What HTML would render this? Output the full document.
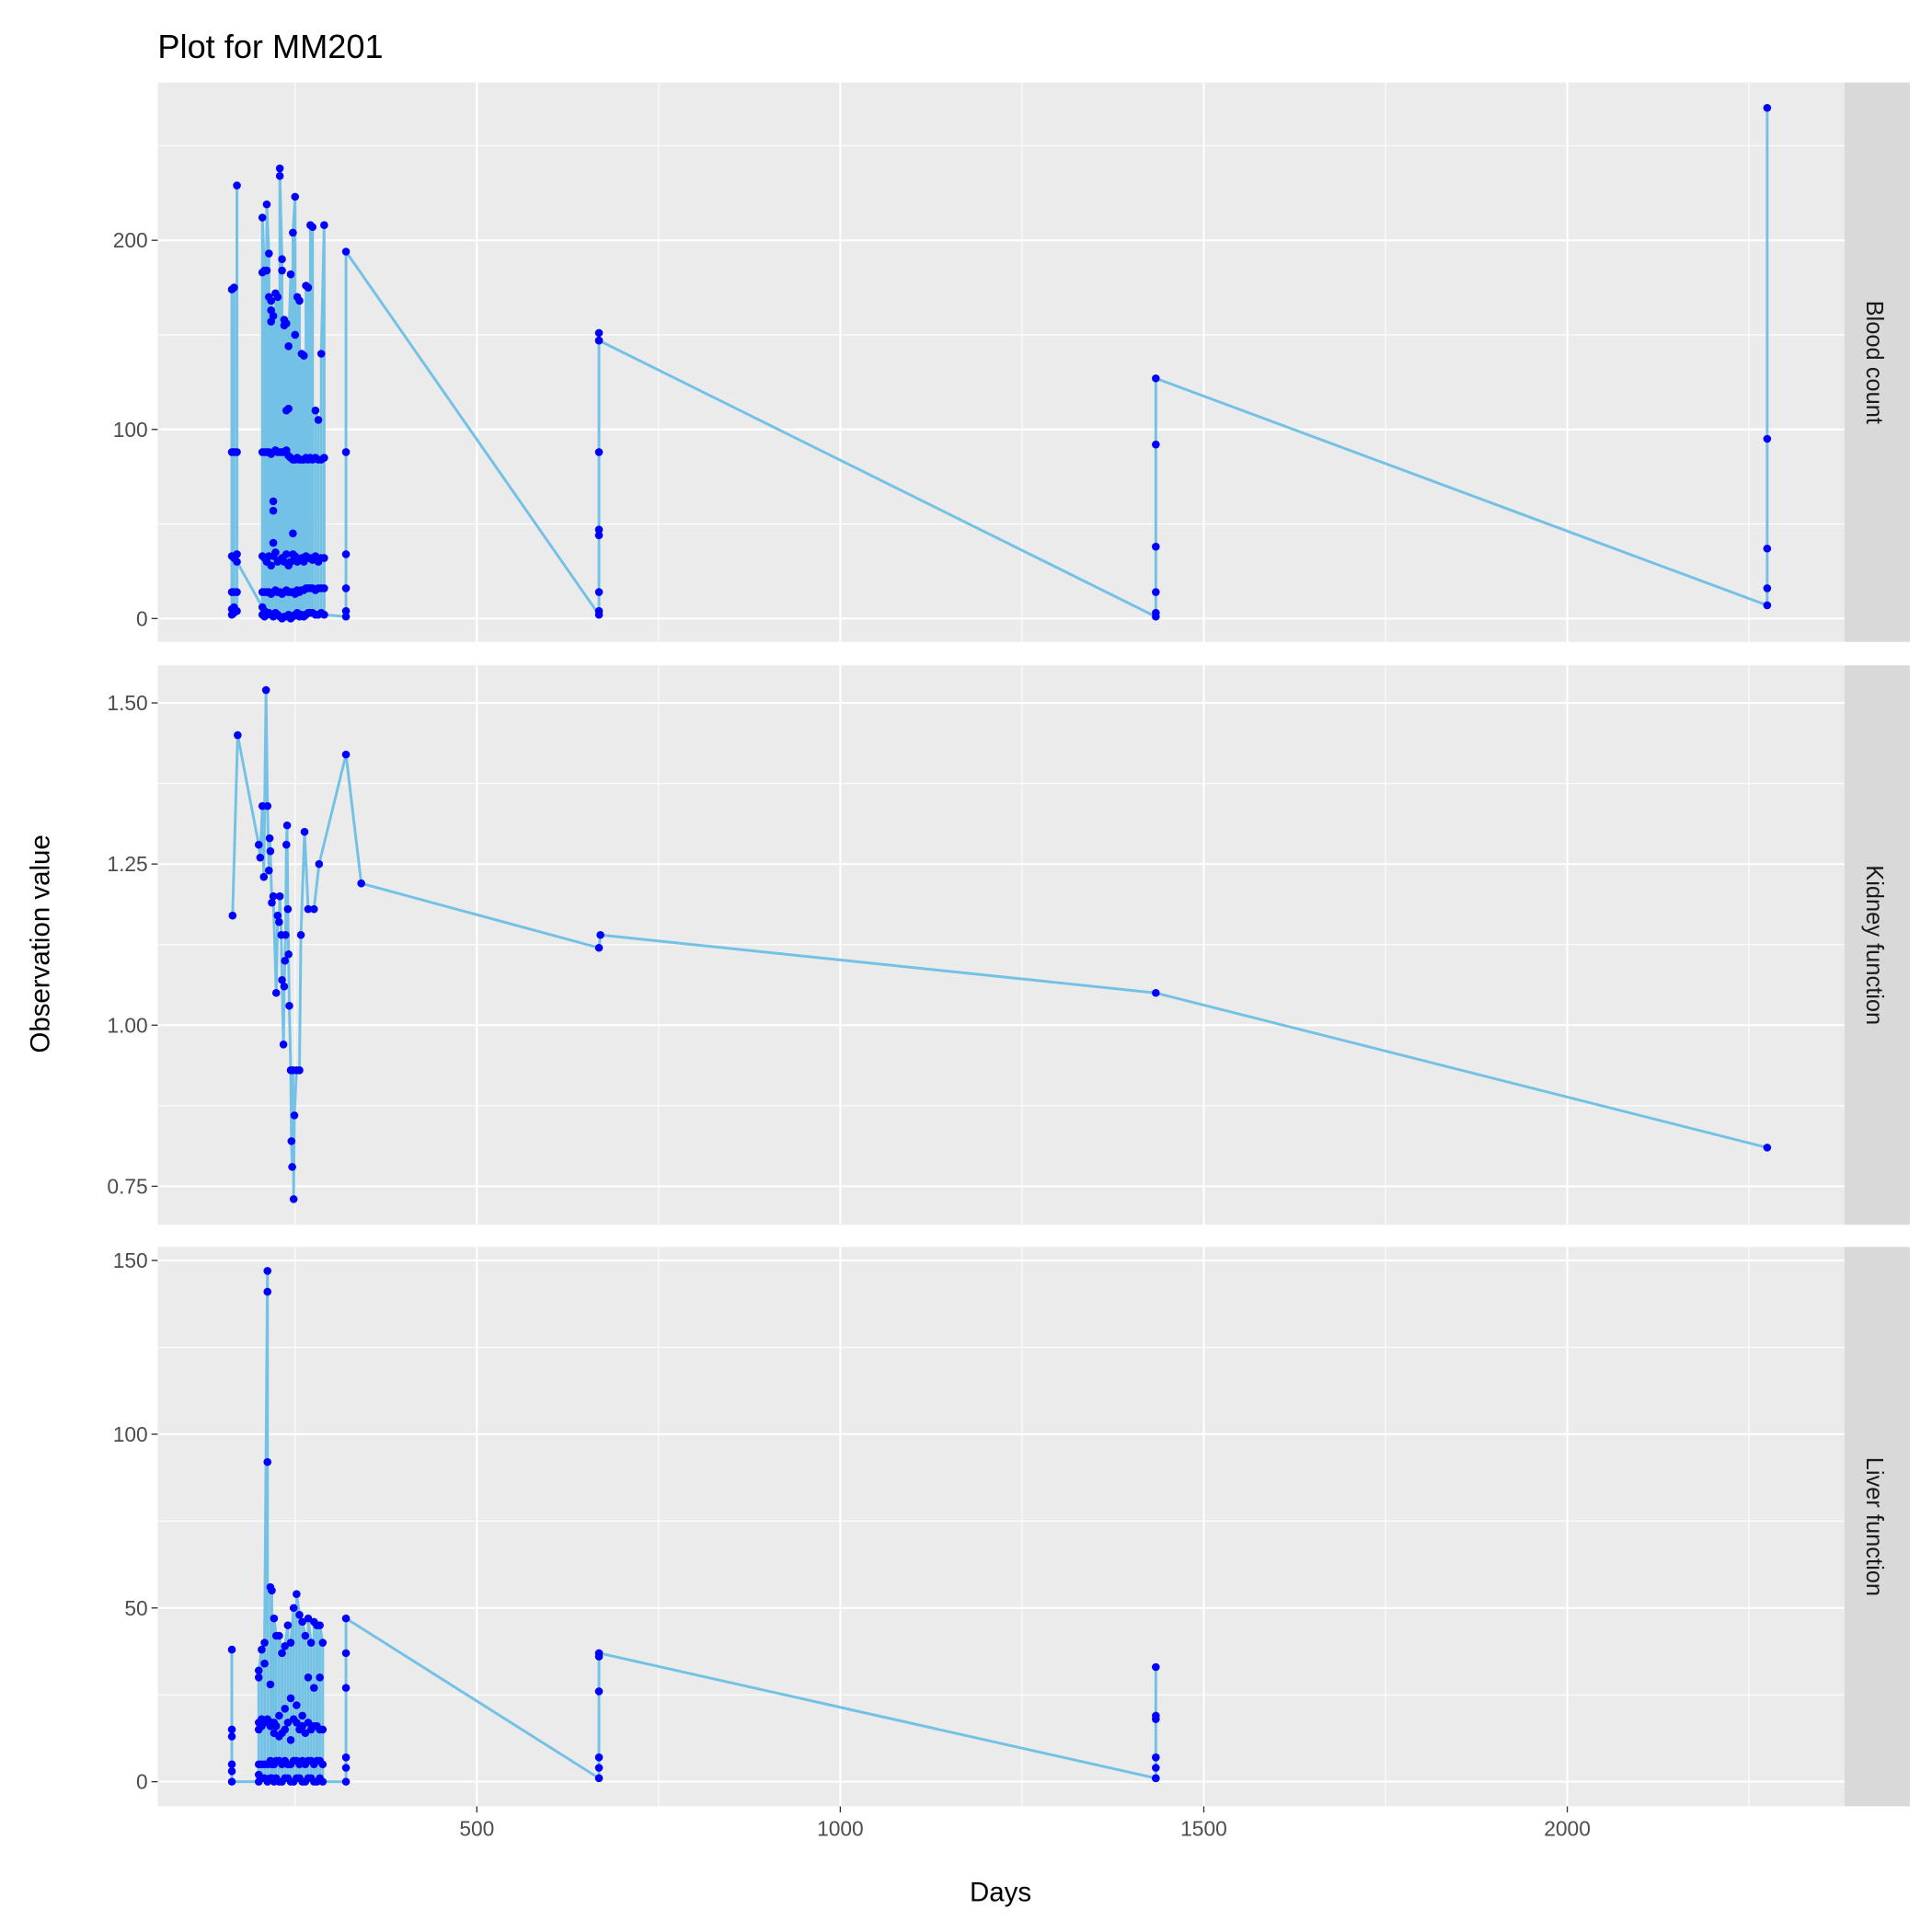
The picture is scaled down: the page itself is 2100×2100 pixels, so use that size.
<!DOCTYPE html>
<html><head><meta charset="utf-8"><style>
html,body{margin:0;padding:0;background:#fff}
svg{display:block}
text{font-family:"Liberation Sans",Arial,sans-serif}
</style></head><body>
<svg id="chart" width="2100" height="2100" viewBox="0 0 1568 1568" xmlns="http://www.w3.org/2000/svg">
<rect width="1568" height="1568" fill="#fff"/>
<text x="128" y="47" font-size="27" fill="#000">Plot for MM201</text>
<text x="812" y="1543" font-size="22" text-anchor="middle" fill="#000">Days</text>
<text transform="translate(40,766) rotate(-90)" font-size="22" text-anchor="middle" fill="#000">Observation value</text>
<g id="plots"></g>
</svg>
<script>
// X axis
const xTicks = [500, 1000, 1500, 2000];
const xMinor = [250, 750, 1250, 1750, 2250];
// Blood count panel
const bloodDays = [163,166,170,205,208,211,214,217,220,223,226,229,232,235,238,241,244,247,250,253,256,259,262,265,268,271,274,278,282,286,290,320,668,1434,2275];
const bloodVals = [
 [2,5,14,33,88,174],[175,88,32,14,6,3],[4,14,34,88,229,30],
 [6,2,14,33,88,183,212],[184,88,32,14,4,1],[2,14,30,88,184,219],
 [193,170,88,33,14,3],[2,13,28,87,157,163,168],[160,62,57,40,33,14,1],
 [3,15,35,89,172],[170,88,30,14,2],[1,14,31,88,238,234],
 [190,184,88,32,13,0],[1,14,30,88,158,155],[156,110,89,34,15,1],
 [2,14,28,86,111,144],[182,85,30,14,0],[1,14,34,45,84,204],
 [223,150,84,33,13,2],[3,15,30,85,170],[168,84,31,14,1],
 [2,15,32,84,140],[139,84,30,15,1],[2,16,33,85,176],
 [175,84,32,16,3],[3,16,32,85,208],[207,84,31,16,3],
 [2,15,33,85,110],[105,84,30,16,2],[3,16,32,84,140],[208,85,32,16,2],
 [1,4,16,34,88,194],[2,4,14,44,47,88,147,151,147],[1,3,14,38,92,127],[7,16,37,95,270]
];
const bloodTicks = [0,100,200];
const bloodMinor = [50,150,250];
// Kidney panel
const kidneyDays = [164,171,200,202,205,207,210,212,214,215,216,218,220,224,226,228,229,231,232,234,235,236,237,238,239,240,241,242,244,245,246,247,248,249,252,256,258,263,268,276,283,320,341,668,670,1434,2275];
const kidneyVals = [1.17,1.45,1.28,1.26,1.34,1.23,1.52,1.34,1.24,1.29,1.27,1.19,1.20,1.05,1.17,1.16,1.20,1.14,1.07,0.97,1.06,1.10,1.14,1.28,1.31,1.18,1.11,1.03,0.93,0.82,0.78,0.93,0.73,0.86,0.93,0.93,1.14,1.30,1.18,1.18,1.25,1.42,1.22,1.12,1.14,1.05,0.81];
const kidneyTicks = [0.75,1.00,1.25,1.50];
const kidneyTickLabels = ["0.75","1.00","1.25","1.50"];
const kidneyMinor = [0.875,1.125,1.375];
// Liver panel
const liverDays = [163,200,204,208,212,216,218,221,224,228,232,236,240,244,248,252,256,260,264,268,272,276,280,284,288,320,668,1434];
const liverVals = [
 [38,15,13,5,3,0],[0,2,5,15,17,30,32],[38,18,16,5,1],[1,5,17,34,40],
 [147,141,92,18,5,0],[1,6,16,28,56],[55,17,5,1],[0,5,14,17,47],
 [42,16,6,1],[0,6,13,19,42],[37,14,5,0],[1,6,15,21,39],[45,17,5,1],
 [0,5,12,24,40],[50,18,6,0],[1,6,17,22,54],[48,15,5,1],[0,6,16,19,46],
 [42,14,5,0],[1,6,17,30,47],[40,15,6,1],[0,5,16,27,46],[45,16,6,0],[1,6,15,30,45],[40,15,5,0],
 [0,4,7,27,37,47],[1,4,7,26,36,37],[1,1,4,7,18,19,33]
];
const liverTicks = [0,50,100,150];
const liverMinor = [25,75,125];

const X0 = 128, X1 = 1497;
const xScale = d => 92 + d * 0.59;
const NS = "http://www.w3.org/2000/svg";
const root = document.getElementById('plots');
function mk(tag, attrs, parent) {
  const e = document.createElementNS(NS, tag);
  for (const k in attrs) e.setAttribute(k, attrs[k]);
  (parent || root).appendChild(e);
  return e;
}
function panel(name, top, bot, yScale, ticks, tickLabels, minor, days, vals, strip) {
  const g = mk('g', {});
  
  
  mk('rect', {x: X0, y: top, width: X1 - X0, height: bot - top, fill: '#ebebeb'}, g);
  minor.forEach(v => mk('line', {x1: X0, x2: X1, y1: yScale(v), y2: yScale(v), stroke: '#fff', 'stroke-width': 0.8}, g));
  xMinor.forEach(v => mk('line', {x1: xScale(v), x2: xScale(v), y1: top, y2: bot, stroke: '#fff', 'stroke-width': 0.8}, g));
  ticks.forEach(v => mk('line', {x1: X0, x2: X1, y1: yScale(v), y2: yScale(v), stroke: '#fff', 'stroke-width': 1.6}, g));
  xTicks.forEach(v => mk('line', {x1: xScale(v), x2: xScale(v), y1: top, y2: bot, stroke: '#fff', 'stroke-width': 1.6}, g));
  ticks.forEach((v, i) => {
    mk('line', {x1: X0 - 5, x2: X0, y1: yScale(v), y2: yScale(v), stroke: '#333', 'stroke-width': 1}, g);
    const t = mk('text', {x: X0 - 8, y: yScale(v) + 6, 'font-size': 17, fill: '#4d4d4d', 'text-anchor': 'end'}, g);
    
    
    t.textContent = tickLabels[i];
  });
  mk('rect', {x: X1, y: top, width: 53, height: bot - top, fill: '#d9d9d9'}, g);
  const st = mk('text', {transform: `translate(${X1 + 18},${(top + bot) / 2}) rotate(90)`, 'font-size': 19, fill: '#1a1a1a', 'text-anchor': 'middle'}, g);
  
  
  st.textContent = strip;
  const pts = [];
  days.forEach((d, i) => {
    const vs = Array.isArray(vals[i]) ? vals[i] : [vals[i]];
    vs.forEach(v => pts.push([xScale(d), yScale(v)]));
  });
  const line = mk('polyline', {points: pts.map(p => p.join(',')).join(' '), fill: 'none', stroke: '#74c1e6', 'stroke-width': 2.2, 'stroke-linejoin': 'round'}, g);
  
  
  pts.forEach(p => {
    const c = mk('circle', {cx: p[0], cy: p[1], r: 3.2, fill: '#0000ff'}, g);
    
    
  });
}
panel('blood-count', 67, 521, v => 502 - v * 1.535, bloodTicks, bloodTicks.map(String), bloodMinor, bloodDays, bloodVals, 'Blood count');
panel('kidney-function', 540, 994, v => 832 - (v - 1) * 523, kidneyTicks, kidneyTickLabels, kidneyMinor, kidneyDays, kidneyVals, 'Kidney function');
panel('liver-function', 1012, 1466, v => 1446 - v * 2.82, liverTicks, liverTicks.map(String), liverMinor, liverDays, liverVals, 'Liver function');
xTicks.forEach(v => {
  mk('line', {x1: xScale(v), x2: xScale(v), y1: 1466, y2: 1471, stroke: '#333', 'stroke-width': 1});
  const t = mk('text', {x: xScale(v), y: 1490, 'font-size': 17, fill: '#4d4d4d', 'text-anchor': 'middle'});
  
  
  t.textContent = String(v);
});
</script>
</body></html>
